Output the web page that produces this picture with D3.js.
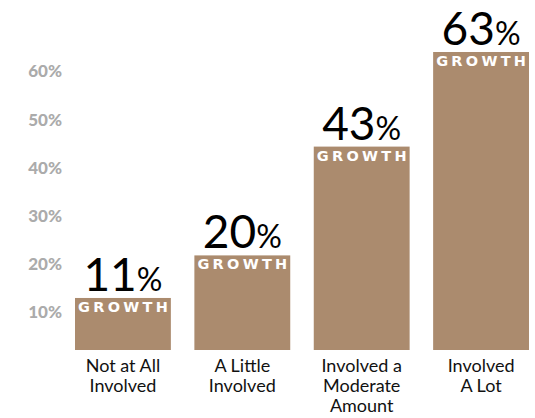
<!DOCTYPE html>
<html>
<head>
<meta charset="utf-8">
<script src="https://cdn.jsdelivr.net/npm/d3@7"></script>
<style>
  html, body { margin: 0; padding: 0; background: #fff; }
  svg { display: block; font-family: "Lato", "Open Sans", sans-serif; }
</style>
</head>
<body>
<svg id="chart" width="535" height="418"></svg>
<script>
// Growth by level of involvement
const categories = [
  ["Not at All", "Involved"],
  ["A Little", "Involved"],
  ["Involved a", "Moderate", "Amount"],
  ["Involved", "A Lot"]
];
const growth = [11, 20, 43, 63];
const tickValues = [10, 20, 30, 40, 50, 60];
const badge = "GROWTH";

const svg = d3.select("#chart");
const barColor = "#ab8b6e";

const x = d3.scaleBand()
  .domain(d3.range(categories.length))
  .range([75, 529])
  .paddingInner(0.197)
  .paddingOuter(0);

// bar heights
const y = d3.scaleLinear().domain([0, 63]).range([350, 52]);
// axis label placement
const yAxisScale = d3.scaleLinear().domain([0, 60]).range([360, 71.5]);

const axis = d3.axisLeft(yAxisScale)
  .tickValues(tickValues)
  .tickSize(0)
  .tickPadding(0)
  .tickFormat(d => d + "%");

const axisG = svg.append("g")
  .attr("transform", "translate(62,0)")
  .call(axis);
axisG.select(".domain").remove();
axisG.selectAll("text")
  .attr("fill", "#ababab")
  .attr("font-size", 17)
  .attr("font-weight", 900)
  .attr("font-family", "Lato, sans-serif");

const bars = svg.append("g").selectAll("g")
  .data(growth)
  .join("g");

bars.append("rect")
  .attr("x", (d, i) => x(i))
  .attr("y", d => y(d))
  .attr("width", x.bandwidth())
  .attr("height", d => y(0) - y(d))
  .attr("fill", barColor);

bars.append("text")
  .attr("x", (d, i) => x(i) + x.bandwidth() / 2)
  .attr("y", d => y(d) + 14)
  .attr("text-anchor", "middle")
  .attr("fill", "#fff")
  .attr("font-family", "'DejaVu Sans', sans-serif")
  .attr("font-size", 14.5)
  .attr("font-weight", 700)
  .attr("textLength", x.bandwidth() - 6)
  .attr("lengthAdjust", "spacing")
  .text(badge);

const val = bars.append("text")
  .attr("x", (d, i) => x(i) + x.bandwidth() / 2)
  .attr("y", d => y(d) - 7)
  .attr("text-anchor", "middle")
  .attr("fill", "#000");
val.append("tspan").attr("font-size", 46).text(d => d);
val.append("tspan").attr("font-size", 32).text("%");

const labels = svg.append("g").selectAll("text")
  .data(categories)
  .join("text")
  .attr("text-anchor", "middle")
  .attr("fill", "#111")
  .attr("font-size", 18);
labels.each(function(lines, i) {
  d3.select(this).selectAll("tspan")
    .data(lines)
    .join("tspan")
    .attr("x", x(i) + x.bandwidth() / 2)
    .attr("y", (l, j) => 372 + j * 20)
    .text(l => l);
});
</script>
</body>
</html>
